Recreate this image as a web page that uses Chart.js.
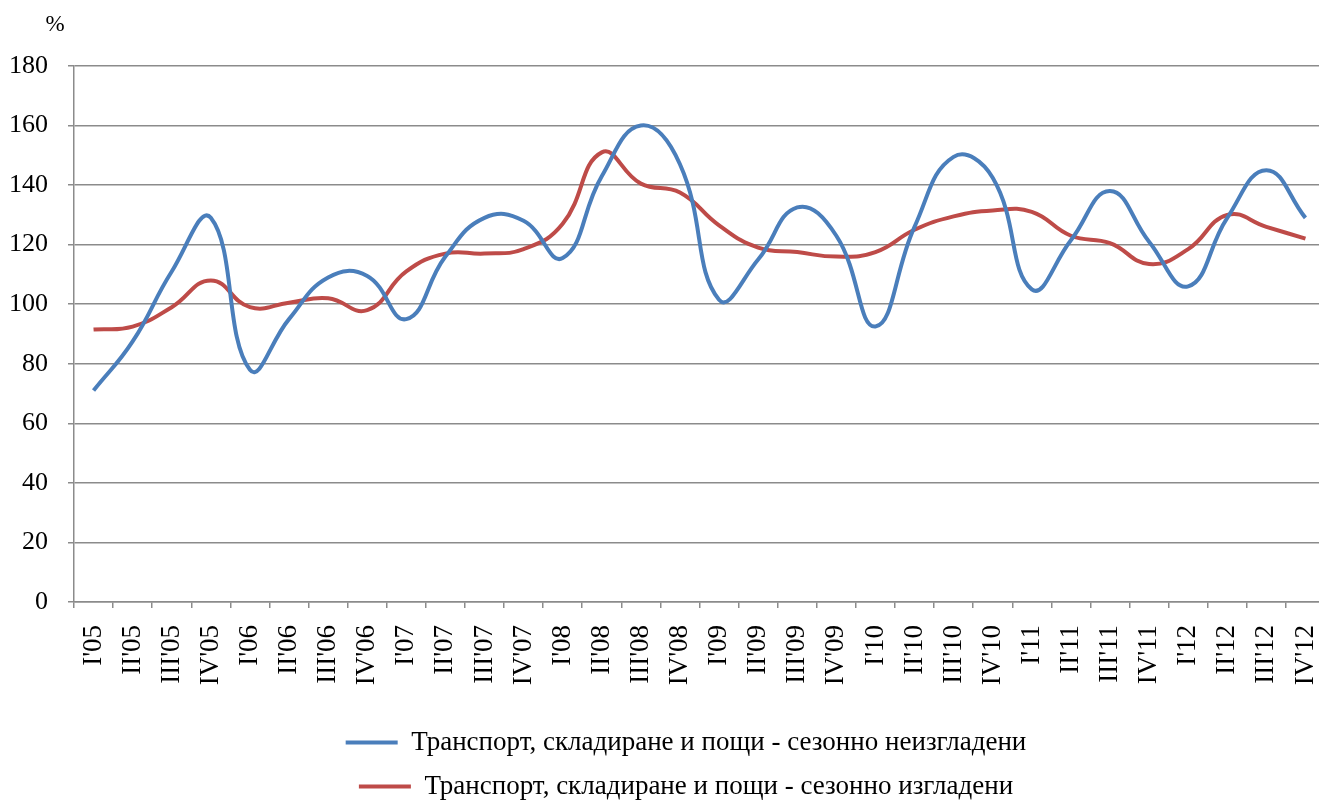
<!DOCTYPE html>
<html>
<head>
<meta charset="utf-8">
<script src="https://cdn.jsdelivr.net/npm/chart.js@4.4.1/dist/chart.umd.min.js"></script>
<style>
  html, body { margin: 0; padding: 0; background: #fff; overflow: hidden; }
  #wrap { position: relative; width: 1372px; height: 810px; }
</style>
</head>
<body>
<div id="wrap"><canvas id="c"></canvas></div>
<script>
const categories = ["I'05","II'05","III'05","IV'05","I'06","II'06","III'06","IV'06",
  "I'07","II'07","III'07","IV'07","I'08","II'08","III'08","IV'08",
  "I'09","II'09","III'09","IV'09","I'10","II'10","III'10","IV'10",
  "I'11","II'11","III'11","IV'11","I'12","II'12","III'12","IV'12"];

const seasonallyUnadjusted = [71, 87.5, 111, 129, 78, 95, 109, 109.5,
  95, 116, 129, 128, 115.5, 143, 160, 147,
  101.5, 115, 132.5, 123, 92.5, 126, 149.5, 142.5,
  105, 121.5, 138, 121, 106, 129, 145, 129];

const seasonallyAdjusted = [91.5, 92.5, 99, 108, 99, 100.5, 102, 98,
  111, 117, 117, 118.5, 127, 151, 140.5, 137.5,
  126.5, 119, 117.5, 116, 117.5, 125, 129.5, 131.5,
  131, 123, 120.5, 113.5, 118.5, 130, 126, 122];

const seriesNames = [
  "Транспорт, складиране и пощи - сезонно неизгладени",
  "Транспорт, складиране и пощи - сезонно изгладени"
];
const yTicks = { min: 0, max: 180, step: 20 };
const unitLabel = "%";

const FONT = "'Liberation Serif', 'Times New Roman', serif";
const GRID = '#8b8b8b';

const unitPlugin = {
  id: 'unitLabel',
  afterDraw(chart) {
    const ctx = chart.ctx;
    ctx.save();
    ctx.font = "23px " + FONT;
    ctx.fillStyle = '#000';
    ctx.textAlign = 'center';
    ctx.textBaseline = 'middle';
    ctx.fillText(unitLabel, 55, 25);
    ctx.restore();
  }
};

new Chart(document.getElementById('c'), {
  type: 'line',
  data: {
    labels: categories,
    datasets: [
      {
        label: seriesNames[0],
        data: seasonallyUnadjusted,
        borderColor: '#4a7ebb',
        backgroundColor: '#4a7ebb',
        borderWidth: 4,
        pointRadius: 0,
        pointHoverRadius: 0,
        tension: 0.45,
        fill: false
      },
      {
        label: seriesNames[1],
        data: seasonallyAdjusted,
        borderColor: '#be4b48',
        backgroundColor: '#be4b48',
        borderWidth: 4,
        pointRadius: 0,
        pointHoverRadius: 0,
        tension: 0.45,
        fill: false
      }
    ]
  },
  options: {
    responsive: true,
    maintainAspectRatio: false,
    animation: false,
    layout: { padding: { left: 0, right: 0, top: 66, bottom: 0 } },
    plugins: {
      tooltip: { enabled: false },
      legend: {
        position: 'bottom',
        align: 'center',
        labels: {
          font: { family: FONT, size: 27 },
          color: '#000',
          usePointStyle: true,
          pointStyle: 'line',
          pointStyleWidth: 52,
          boxHeight: 27,
          padding: 17
        }
      }
    },
    scales: {
      x: {
        offset: true,
        afterFit(scale) { scale.height = 110; },
        grid: {
          drawOnChartArea: false,
          drawTicks: true,
          tickLength: 6,
          color: GRID,
          lineWidth: 1.5,
          offset: true
        },
        border: { color: GRID, width: 1.5 },
        ticks: {
          autoSkip: false,
          maxRotation: 90,
          minRotation: 90,
          padding: 17,
          color: '#000',
          font: { family: FONT, size: 27 }
        }
      },
      y: {
        min: yTicks.min,
        max: yTicks.max,
        afterFit(scale) { scale.width = 74; },
        grid: {
          color: GRID,
          lineWidth: 1.5,
          drawTicks: true,
          tickLength: 6
        },
        border: { color: GRID, width: 1.5 },
        ticks: {
          stepSize: yTicks.step,
          padding: 20,
          color: '#000',
          font: { family: FONT, size: 26 }
        }
      },
      spacer: {
        type: 'linear',
        position: 'right',
        display: true,
        afterFit(scale) { scale.width = 47; },
        grid: { display: false, drawOnChartArea: false },
        border: { display: false },
        ticks: { display: false }
      }
    }
  },
  plugins: [unitPlugin]
});
</script>
</body>
</html>
